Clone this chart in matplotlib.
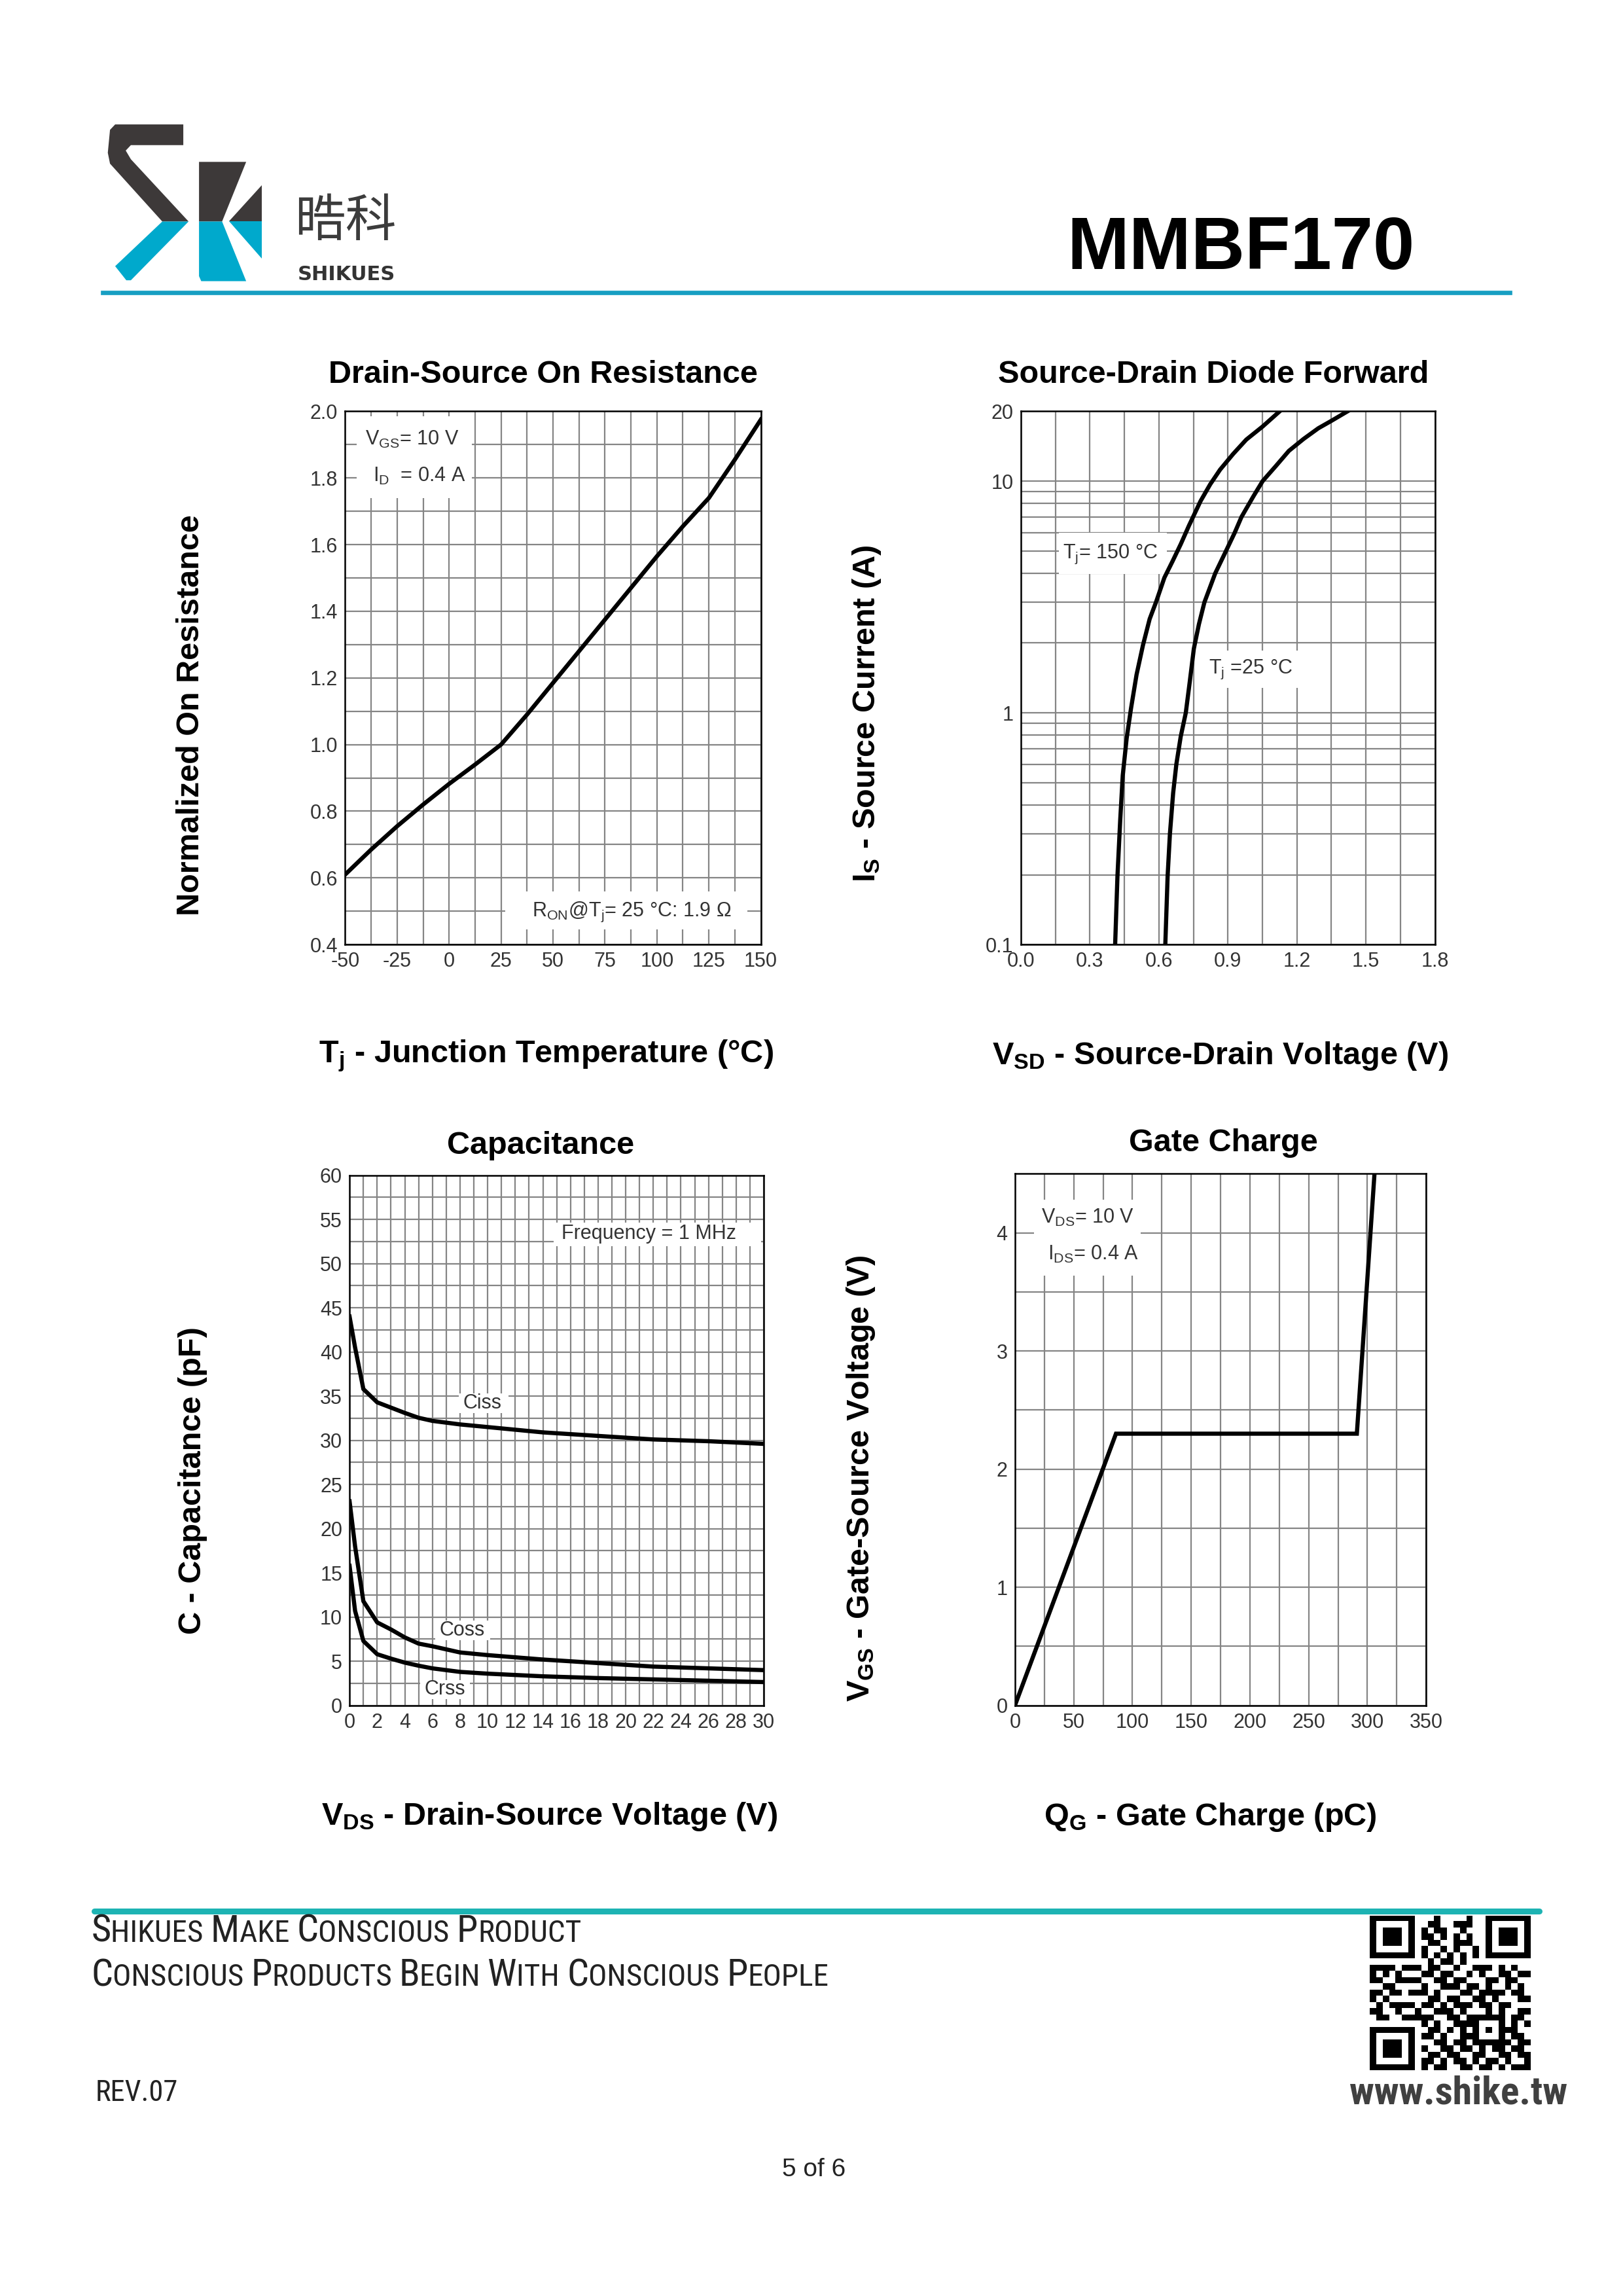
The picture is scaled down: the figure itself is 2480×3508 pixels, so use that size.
import matplotlib
matplotlib.use('Agg')
import matplotlib.pyplot as plt
from matplotlib import font_manager
from matplotlib.patches import Polygon, Rectangle
from matplotlib.lines import Line2D
from matplotlib.ticker import MultipleLocator, FixedLocator, NullFormatter, FormatStrFormatter
from matplotlib.offsetbox import TextArea, HPacker, AnnotationBbox
import numpy as np

# ---------------- data ----------------
# Drain-Source On Resistance vs junction temperature
ron_temp = [-50, -37.5, -25, -12.5, 0, 12.5, 25, 37.5, 50, 62.5, 75, 87.5, 100, 112.5, 125, 137.5, 150]
ron_norm = [0.61, 0.685, 0.755, 0.82, 0.882, 0.94, 1.00, 1.09, 1.185, 1.28, 1.375, 1.47, 1.565,
            1.655, 1.74, 1.855, 1.975]

# Source-Drain diode forward
vsd_150 = [0.410, 0.420, 0.432, 0.443, 0.460, 0.479, 0.503, 0.531, 0.560, 0.588, 0.624, 0.660,
           0.695, 0.731, 0.781, 0.823, 0.866, 0.923, 0.980, 1.051, 1.125]
is_150 = [0.1, 0.197, 0.344, 0.536, 0.776, 1.045, 1.46, 1.96, 2.54, 3.01, 3.83, 4.52,
          5.34, 6.43, 8.19, 9.68, 11.2, 13.1, 15.1, 17.2, 20.0]
vsd_25 = [0.628, 0.638, 0.648, 0.662, 0.676, 0.695, 0.717, 0.734, 0.752, 0.774, 0.798, 0.845, 0.892,
          0.930, 0.959, 1.011, 1.051, 1.108, 1.165, 1.229, 1.293, 1.350, 1.420]
is_25 = [0.1, 0.197, 0.3, 0.45, 0.6, 0.79, 1.0, 1.355, 1.89, 2.41, 3.0, 4.0, 5.0,
         6.0, 7.0, 8.6, 10.0, 11.6, 13.5, 15.2, 16.9, 18.2, 20.0]

# Capacitance
vds_cap = [0, 0.4, 1, 2, 3, 4, 5, 6, 8, 10, 14, 18, 22, 26, 30]
ciss = [44.0, 40.5, 35.8, 34.3, 33.7, 33.1, 32.55, 32.2, 31.8, 31.5, 30.9, 30.5, 30.1, 29.9, 29.6]
coss = [23.1, 18.0, 11.8, 9.4, 8.6, 7.7, 7.0, 6.7, 6.0, 5.7, 5.2, 4.8, 4.4, 4.2, 4.0]
crss = [15.8, 10.7, 7.3, 5.8, 5.3, 4.85, 4.5, 4.2, 3.8, 3.6, 3.3, 3.1, 2.95, 2.8, 2.65]

# Gate charge
qg = [0, 86, 291, 306]
vgs = [0, 2.3, 2.3, 4.5]

# tick labels
ron_xticks = [-50, -25, 0, 25, 50, 75, 100, 125, 150]
diode_yticks = [0.1, 1, 10, 20]
diode_ylabels = ['0.1', '1', '10', '20']
cap_xticks = list(range(0, 31, 2))
cap_yticks = list(range(0, 61, 5))
gate_xticks = list(range(0, 351, 50))
gate_yticks = [0, 1, 2, 3, 4]

# QR-like decoration (module rows)
qr_rows = [
    "1111111000100001001111111",
    "1000001001100111001000001",
    "1011101010110010001011101",
    "1011101011010101001011101",
    "1011101001100111001011101",
    "1000001010010100101000001",
    "1111111010101010101111111",
    "0000000001011010000000000",
    "1111011101100100111010100",
    "1010100011011001010011011",
    "1100111100110110001101100",
    "0011000010011101101001010",
    "1101101110100011011110110",
    "1010000001101100110100011",
    "0101111011010111011011000",
    "1100100100111010001010011",
    "0110011111001101111110110",
    "0000000010100111100010101",
    "1111111001101010101011100",
    "1000001011010011100010110",
    "1011101000110110111111011",
    "1011101010011011010110110",
    "1011101001101100110011011",
    "1000001011010110101101001",
    "1111111010110011011010111",
]

# ---------------- fonts ----------------
avail = {f.name for f in font_manager.fontManager.ttflist}
SANS = 'Liberation Sans' if 'Liberation Sans' in avail else 'DejaVu Sans'
NARROW = next((n for n in ['Liberation Sans Narrow', 'Roboto Condensed', 'Open Sans Condensed']
               if n in avail), SANS)
CJK = 'Noto Sans CJK SC'

plt.rcParams['font.family'] = [SANS, 'DejaVu Sans']
plt.rcParams['axes.unicode_minus'] = False
plt.rcParams['mathtext.fontset'] = 'custom'
plt.rcParams['mathtext.rm'] = SANS
plt.rcParams['mathtext.it'] = SANS + ':italic'
plt.rcParams['mathtext.bf'] = SANS + ':bold'

W, H = 1105.0, 1563.0


def rect(l, t, r, b):
    return [l / W, 1 - b / H, (r - l) / W, (b - t) / H]


def fxy(x, y):
    return (x / W, 1 - y / H)


fig = plt.figure(figsize=(24.8, 35.08), dpi=100, facecolor='white')

TICK_FS = 22
LABEL_FS = 35
GRID_C = '#858585'
TXT_C = '#333333'
CURVE_LW = 4.6


def style(ax):
    for s in ax.spines.values():
        s.set_color('black')
        s.set_linewidth(1.8)
    ax.tick_params(which='both', length=0, labelsize=TICK_FS, labelcolor=TXT_C, pad=8)
    ax.grid(which='both', color=GRID_C, lw=1.6)
    ax.set_axisbelow(True)
    ax.set_facecolor('white')


def title(ax, s, x, y):
    ax.text(x, y, s, transform=ax.transAxes, ha='center', va='center',
            fontsize=LABEL_FS, fontweight='bold', color='black')


def labels(ax, xl, yl, xc, yc, ylx, yly):
    ax.set_xlabel(xl, fontsize=LABEL_FS, fontweight='bold', va='center')
    ax.set_ylabel(yl, fontsize=LABEL_FS, fontweight='bold', va='center')
    ax.xaxis.set_label_coords(xc, yc)
    ax.yaxis.set_label_coords(ylx, yly)


def note(ax, x, y, s, **kw):
    ax.text(x, y, s, fontsize=TICK_FS, color=TXT_C, ha='left', va='center', zorder=4, **kw)


def whitebox(ax, x0, y0, x1, y1):
    ax.add_patch(Rectangle((x0, y0), x1 - x0, y1 - y0, facecolor='white',
                           edgecolor='none', zorder=1))


# ---------- Chart 1: Drain-Source On Resistance ----------
ax1 = fig.add_axes(rect(235, 280, 518, 643))
style(ax1)
ax1.plot(ron_temp, ron_norm, color='black', lw=CURVE_LW, solid_joinstyle='round', zorder=3)
ax1.set_xlim(-50, 150)
ax1.set_ylim(0.4, 2.0)
ax1.set_xticks(ron_xticks)
ax1.xaxis.set_minor_locator(MultipleLocator(12.5))
ax1.yaxis.set_major_locator(MultipleLocator(0.2))
ax1.yaxis.set_minor_locator(MultipleLocator(0.1))
ax1.yaxis.set_major_formatter(FormatStrFormatter('%.1f'))
whitebox(ax1, -44.5, 1.74, 11, 1.985)
note(ax1, -40.5, 1.915, r'V$_\mathrm{GS}$= 10 V')
note(ax1, -36.5, 1.805, r'I$_\mathrm{D}$  = 0.4 A')
whitebox(ax1, 27, 0.445, 143.5, 0.56)
note(ax1, 40, 0.497, r'R$_\mathrm{ON}$@T$_\mathrm{j}$= 25 °C: 1.9 Ω')
title(ax1, 'Drain-Source On Resistance', 0.477, 1.069)
labels(ax1, r'T$_\mathbf{j}$ - Junction Temperature (°C)', 'Normalized On Resistance',
       0.484, -0.209, -0.371, 0.43)

# ---------- Chart 2: Source-Drain Diode Forward ----------
ax2 = fig.add_axes(rect(695, 280, 977, 643))
style(ax2)
ax2.set_yscale('log')
ax2.plot(vsd_150, is_150, color='black', lw=CURVE_LW, solid_joinstyle='round', zorder=3)
ax2.plot(vsd_25, is_25, color='black', lw=CURVE_LW, solid_joinstyle='round', zorder=3)
ax2.set_xlim(0, 1.8)
ax2.set_ylim(0.1, 20)
ax2.xaxis.set_major_locator(MultipleLocator(0.3))
ax2.xaxis.set_minor_locator(MultipleLocator(0.15))
ax2.xaxis.set_major_formatter(FormatStrFormatter('%.1f'))
ax2.yaxis.set_major_locator(FixedLocator(diode_yticks))
ax2.set_yticklabels(diode_ylabels)
ax2.yaxis.set_minor_locator(FixedLocator([0.2, 0.3, 0.4, 0.5, 0.6, 0.7, 0.8, 0.9,
                                          2, 3, 4, 5, 6, 7, 8, 9]))
ax2.yaxis.set_minor_formatter(NullFormatter())
whitebox(ax2, 0.165, 3.97, 0.635, 5.97)
note(ax2, 0.182, 4.83, r'T$_\mathrm{j}$= 150 °C')
whitebox(ax2, 0.80, 1.28, 1.21, 1.86)
note(ax2, 0.816, 1.54, r'T$_\mathrm{j}$ =25 °C')
title(ax2, 'Source-Drain Diode Forward', 0.465, 1.069)
labels(ax2, r'V$_\mathbf{SD}$ - Source-Drain Voltage (V)', r'I$_\mathbf{S}$ - Source Current (A)',
       0.482, -0.209, -0.372, 0.433)

# ---------- Chart 3: Capacitance ----------
ax3 = fig.add_axes(rect(238, 800, 520, 1161))
style(ax3)
for ser in (ciss, coss, crss):
    ax3.plot(vds_cap, ser, color='black', lw=CURVE_LW, solid_joinstyle='round', zorder=3)
ax3.set_xlim(0, 30)
ax3.set_ylim(0, 60)
ax3.set_xticks(cap_xticks)
ax3.set_yticks(cap_yticks)
ax3.xaxis.set_minor_locator(MultipleLocator(1))
ax3.yaxis.set_minor_locator(MultipleLocator(2.5))
whitebox(ax3, 14.8, 52.0, 29.8, 54.6)
note(ax3, 15.35, 53.4, 'Frequency = 1 MHz')
whitebox(ax3, 7.9, 33.1, 11.5, 35.3)
note(ax3, 8.2, 34.2, 'Ciss')
whitebox(ax3, 6.2, 7.4, 10.2, 9.6)
note(ax3, 6.5, 8.5, 'Coss')
whitebox(ax3, 5.1, 0.7, 8.7, 2.9)
note(ax3, 5.4, 1.8, 'Crss')
title(ax3, 'Capacitance', 0.461, 1.055)
labels(ax3, r'V$_\mathbf{DS}$ - Drain-Source Voltage (V)', 'C - Capacitance (pF)',
       0.482, -0.21, -0.379, 0.424)

# ---------- Chart 4: Gate Charge ----------
ax4 = fig.add_axes(rect(691, 799, 971, 1161))
style(ax4)
ax4.plot(qg, vgs, color='black', lw=CURVE_LW, solid_joinstyle='miter', zorder=3)
ax4.set_xlim(0, 350)
ax4.set_ylim(0, 4.5)
ax4.set_xticks(gate_xticks)
ax4.set_yticks(gate_yticks)
ax4.xaxis.set_minor_locator(MultipleLocator(25))
ax4.yaxis.set_minor_locator(MultipleLocator(0.5))
whitebox(ax4, 16, 3.64, 107, 4.28)
note(ax4, 22.5, 4.13, r'V$_\mathrm{DS}$= 10 V')
note(ax4, 28, 3.82, r'I$_\mathrm{DS}$= 0.4 A')
title(ax4, 'Gate Charge', 0.507, 1.058)
labels(ax4, r'Q$_\mathbf{G}$ - Gate Charge (pC)', r'V$_\mathbf{GS}$ - Gate-Source Voltage (V)',
       0.475, -0.21, -0.375, 0.427)

# ---------------- header ----------------
DARK = '#3d3939'
TEAL = '#00a9cc'
logo = [
    (DARK, [(78.4, 84.7), (124.8, 84.7), (124.8, 98.8), (89.1, 98.8), (85.6, 102.5), (89.1, 108.4),
            (128.4, 150.8), (110.5, 150.8), (74.9, 111.4), (73.4, 104), (74.9, 88.4)]),
    (DARK, [(135.5, 110.2), (167.6, 110.2), (151.2, 150.8), (135.5, 150.8)]),
    (DARK, [(178.3, 126.0), (178.3, 150.8), (156.0, 150.8)]),
    (TEAL, [(110.5, 150.8), (128.4, 150.8), (89.1, 190.8), (86.0, 190.8), (78.4, 181.2)]),
    (TEAL, [(135.5, 150.8), (151.2, 150.8), (167.6, 191.4), (137.0, 191.4), (135.5, 188.0)]),
    (TEAL, [(156.0, 150.8), (178.3, 150.8), (178.3, 176.0)]),
]
for col, pts in logo:
    fig.add_artist(Polygon([fxy(x, y) for x, y in pts], closed=True, facecolor=col,
                           edgecolor='none', transform=fig.transFigure))

fig.text(*fxy(235, 151), '晧科', family=[CJK, 'DejaVu Sans'], fontsize=56, color='#3c3c3c',
         ha='center', va='center')
fig.text(*fxy(236, 187), 'SHIKUES', fontsize=22, fontweight='bold', family='DejaVu Sans',
         color='#333333', ha='center', va='center')
fig.text(*fxy(845, 170), 'MMBF170', fontsize=82, fontweight='bold', color='black',
         ha='center', va='center')
x0, y0 = fxy(70, 199)
x1, _ = fxy(1028, 199)
fig.add_artist(Line2D([x0, x1], [y0, y0], color='#179fc2', lw=4.8, transform=fig.transFigure))

# ---------------- footer ----------------
x0, y0 = fxy(64, 1301)
x1, _ = fxy(1048, 1301)
fig.add_artist(Line2D([x0, x1], [y0, y0], color='#1db3b3', lw=6.5, solid_capstyle='round',
                      transform=fig.transFigure))


def smallcaps(text, big, small, xy):
    kids = []
    words = text.split(' ')
    for i, w in enumerate(words):
        kids.append(TextArea(w[0].upper(), textprops=dict(fontsize=big, family=NARROW, color='#222222')))
        rest = w[1:].upper() + (' ' if i < len(words) - 1 else '')
        if rest:
            kids.append(TextArea(rest, textprops=dict(fontsize=small, family=NARROW, color='#222222')))
    pack = HPacker(children=kids, align='baseline', pad=0, sep=0)
    ab = AnnotationBbox(pack, xy, xycoords='figure fraction', box_alignment=(0, 0.5),
                        frameon=False, pad=0)
    fig.add_artist(ab)


smallcaps('Shikues Make Conscious Product', 42, 34, fxy(62, 1315))
smallcaps('Conscious Products Begin With Conscious People', 42, 34, fxy(62, 1345))

fig.text(*fxy(65, 1425), 'REV.07', fontsize=32, family=NARROW, color='#222222',
         ha='left', va='center')
fig.text(*fxy(993, 1425), 'www.shike.tw', fontsize=43, family=NARROW, fontweight='bold',
         color='#404040', ha='center', va='center')
fig.text(*fxy(554, 1477), '5 of 6', fontsize=28, color='#222222',
         ha='center', va='center')

qr = np.array([[int(c) for c in row] for row in qr_rows])
axq = fig.add_axes([0.844, 0.0983, 0.0988, 0.0673])
axq.imshow(qr, cmap='gray_r', interpolation='nearest', aspect='auto', vmin=0, vmax=1)
axq.axis('off')

fig.savefig('out.png', dpi=100, facecolor='white')
